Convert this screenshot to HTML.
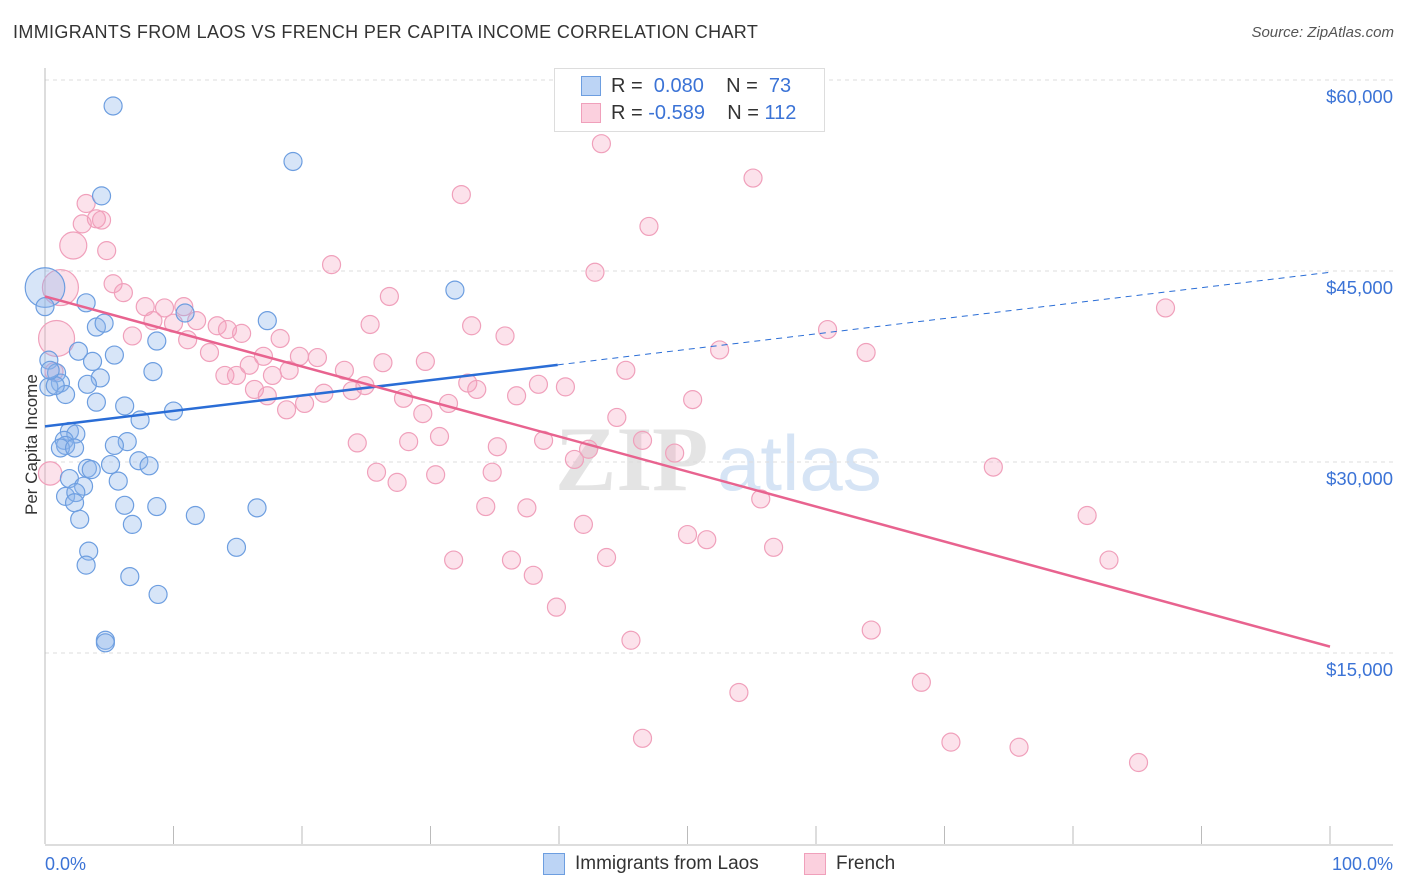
<!DOCTYPE html>
<html><head><meta charset="utf-8">
<style>
body{margin:0;background:#fff;font-family:"Liberation Sans",sans-serif;}
#wrap{position:relative;width:1406px;height:892px;overflow:hidden;}
.t{position:absolute;white-space:nowrap;}
</style></head><body>
<div id="wrap">
<div class="t" style="left:13px;top:22px;font-size:18px;color:#333;letter-spacing:0.35px;">IMMIGRANTS FROM LAOS VS FRENCH PER CAPITA INCOME CORRELATION CHART</div>
<div class="t" style="right:12px;top:24px;font-size:15px;color:#555;font-style:italic;">Source: ZipAtlas.com</div>
<div class="t" style="left:-28px;top:445px;font-size:17px;color:#333;transform:rotate(-90deg);transform-origin:center;width:120px;text-align:center;">Per Capita Income</div>
<svg id="chart" width="1406" height="892" style="position:absolute;left:0;top:0;"></svg>
</div>
<script>
const yTicks=[15000,30000,45000,60000];
const yTickLabels=["$15,000","$30,000","$45,000","$60,000"];
const blueX=[5.3,19.3,4.4,31.9,0,3.2,0,10.9,17.3,4.0,4.6,8.7,2.6,5.4,0.3,3.7,8.4,0.9,1.2,4.3,3.3,0.3,1.6,4.0,6.2,10.0,7.4,1.9,2.4,1.5,1.6,6.4,5.4,1.2,2.3,7.3,5.1,8.1,3.3,3.6,1.9,5.7,3.0,1.6,2.4,2.3,6.2,8.7,16.5,11.7,2.7,6.8,3.4,14.9,3.2,6.6,8.8,4.7,4.7,0.8,0.4];
const blueY=[57.96,53.6,50.9,43.5,43.7,42.5,42.2,41.7,41.1,40.6,40.9,39.5,38.7,38.4,38.0,37.9,37.1,37.0,36.2,36.6,36.1,35.9,35.3,34.7,34.4,34.0,33.3,32.4,32.2,31.7,31.3,31.6,31.3,31.1,31.1,30.1,29.8,29.7,29.5,29.4,28.7,28.5,28.1,27.3,27.6,26.8,26.6,26.5,26.4,25.8,25.5,25.1,23.0,23.3,21.9,21.0,19.6,16.0,15.8,36.0,37.2];
const blueSize=[1,1,1,1,2.2,1,1,1,1,1,1,1,1,1,1,1,1,1,1,1,1,1,1,1,1,1,1,1,1,1,1,1,1,1,1,1,1,1,1,1,1,1,1,1,1,1,1,1,1,1,1,1,1,1,1,1,1,1,1,1,1];
const pinkX=[43.3,55.1,32.4,3.2,2.9,4.0,4.4,2.2,4.8,47.0,22.3,42.8,1.2,5.3,6.1,26.8,87.2,7.8,9.3,10.8,8.4,10.0,11.8,13.4,15.3,14.2,18.3,25.3,33.2,35.8,60.9,63.9,52.5,0.9,6.8,11.1,12.8,17.0,19.8,21.2,15.9,14.0,14.9,17.7,26.3,29.6,45.2,23.3,19.0,0.7,17.3,16.3,21.7,23.9,24.9,27.9,31.4,32.9,33.6,36.7,38.4,40.5,50.4,20.2,18.8,29.4,44.5,24.3,28.3,30.7,35.2,38.8,42.3,46.5,49.0,41.2,25.8,27.4,30.4,34.8,73.8,0.4,34.3,37.5,55.7,41.9,81.1,50.0,51.5,56.7,31.8,36.3,43.7,38.0,82.8,39.8,45.6,64.3,54.0,68.2,46.5,70.5,75.8,85.1];
const pinkY=[55.0,52.3,51.0,50.3,48.7,49.1,49.0,47.0,46.6,48.5,45.5,44.9,43.7,44.0,43.3,43.0,42.1,42.2,42.1,42.2,41.1,40.9,41.1,40.7,40.1,40.4,39.7,40.8,40.7,39.9,40.4,38.6,38.8,39.7,39.9,39.6,38.6,38.3,38.3,38.2,37.6,36.8,36.8,36.8,37.8,37.9,37.2,37.2,37.2,37.1,35.2,35.7,35.4,35.6,36.0,35.0,34.6,36.2,35.7,35.2,36.1,35.9,34.9,34.6,34.1,33.8,33.5,31.5,31.6,32.0,31.2,31.7,31.0,31.7,30.7,30.2,29.2,28.4,29.0,29.2,29.6,29.1,26.5,26.4,27.1,25.1,25.8,24.3,23.9,23.3,22.3,22.3,22.5,21.1,22.3,18.6,16.0,16.8,11.9,12.7,8.3,8.0,7.6,6.4];
const pinkBig={7:1.5,12:2,33:2,81:1.3};
const blueTrend=[32.8,44.9]; const blueSolidEnd=39.9;
const pinkTrend=[43.0,15.5];

const svg=document.getElementById('chart');const NS='http://www.w3.org/2000/svg';
const X0=45,X1=1330,Y0=844,Y60=80;
const sx=v=>X0+v/100*(X1-X0);
const sy=k=>Y0-k/60*(Y0-Y60);
function mk(tag,attrs){const e=document.createElementNS(NS,tag);for(const k in attrs)e.setAttribute(k,attrs[k]);svg.appendChild(e);return e;}
let wm=mk('text',{x:555,y:490,'font-size':92,fill:'#e4e4e4','font-family':'Liberation Serif,serif','font-weight':'bold'});wm.textContent='ZIP';


let wm2=mk('text',{x:717,y:490,'font-size':78,fill:'#d6e4f5','font-family':'Liberation Sans,sans-serif'});wm2.textContent='atlas';


yTicks.forEach((v,i)=>{
 const y=sy(v/1000);
 const g=mk('line',{x1:X0,x2:1393,y1:y,y2:y,stroke:'#dddddd','stroke-dasharray':'4,4'});
 
 
 const t=mk('text',{x:1393,y:y+23,'text-anchor':'end','font-size':18.5,fill:'#3b73d6'});t.textContent=yTickLabels[i];
 
 
});
const ax=mk('line',{x1:X0,x2:X0,y1:68,y2:Y0,stroke:'#bbb'});


const bx=mk('line',{x1:X0,x2:1393,y1:Y0+1,y2:Y0+1,stroke:'#bbb'});


for(let i=0;i<=10;i++){const tk=mk('line',{x1:sx(i*10),x2:sx(i*10),y1:826,y2:Y0,stroke:'#bbb'});
 
 }
let xl=mk('text',{x:45,y:870,'font-size':18,fill:'#3b73d6'});xl.textContent='0.0%';


let xr=mk('text',{x:1393,y:870,'font-size':18,fill:'#3b73d6','text-anchor':'end'});xr.textContent='100.0%';


pinkX.forEach((x,i)=>{const s=pinkBig[i]||1;
 const c=mk('circle',{cx:sx(x),cy:sy(pinkY[i]),r:9*s,fill:'rgba(244,160,188,0.3)',stroke:'#f0a0bb','stroke-width':1.2});
 
 });
blueX.forEach((x,i)=>{
 const c=mk('circle',{cx:sx(x),cy:sy(blueY[i]),r:9*blueSize[i],fill:'rgba(140,180,235,0.35)',stroke:'#6d9ee0','stroke-width':1.2});
 
 });
const bAt=x=>blueTrend[0]+(blueTrend[1]-blueTrend[0])*x/100;
const l1=mk('line',{x1:sx(0),y1:sy(bAt(0)),x2:sx(blueSolidEnd),y2:sy(bAt(blueSolidEnd)),stroke:'#2a6dd6','stroke-width':2.5});


const l2=mk('line',{x1:sx(blueSolidEnd),y1:sy(bAt(blueSolidEnd)),x2:sx(100),y2:sy(bAt(100)),stroke:'#2a6dd6','stroke-width':1,'stroke-dasharray':'6,5'});


const l3=mk('line',{x1:sx(0),y1:sy(pinkTrend[0]),x2:sx(100),y2:sy(pinkTrend[1]),stroke:'#e8638f','stroke-width':2.5});


</script>
<div style="position:absolute;left:554px;top:68px;width:269px;height:62px;border:1px solid #ddd;background:#fff;font-size:20px;">
 <div style="position:absolute;left:26px;top:7px;width:18px;height:18px;background:#bcd4f5;border:1px solid #6d9ee0;"></div>
 <div class="t" style="left:56px;top:6px;color:#333;">R = &nbsp;<span style="color:#3b73d6">0.080</span>&nbsp;&nbsp;&nbsp; N = &nbsp;<span style="color:#3b73d6">73</span></div>
 <div style="position:absolute;left:26px;top:34px;width:18px;height:18px;background:#fbd0de;border:1px solid #f0a0bb;"></div>
 <div class="t" style="left:56px;top:33px;color:#333;">R = <span style="color:#3b73d6">-0.589</span>&nbsp;&nbsp;&nbsp; N = <span style="color:#3b73d6">112</span></div>
</div>
<div style="position:absolute;left:543px;top:853px;width:20px;height:20px;background:#bcd4f5;border:1px solid #6d9ee0;"></div>
<div class="t" style="left:575px;top:853px;font-size:19px;color:#333;">Immigrants from Laos</div>
<div style="position:absolute;left:804px;top:853px;width:20px;height:20px;background:#fbd0de;border:1px solid #f0a0bb;"></div>
<div class="t" style="left:836px;top:853px;font-size:19px;color:#333;">French</div>
</body></html>
